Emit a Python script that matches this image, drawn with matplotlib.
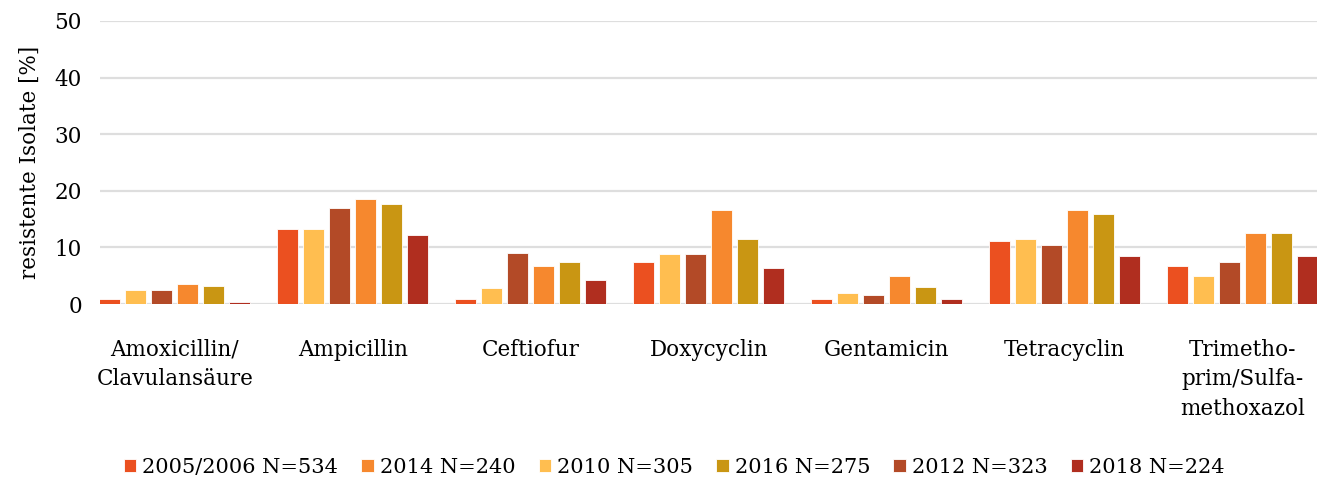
import matplotlib.pyplot as plt
import numpy as np

plt.rcParams["font.family"] = ["DejaVu Serif"]

categories = ["Amoxicillin/\nClavulansäure", "Ampicillin", "Ceftiofur", "Doxycyclin",
              "Gentamicin", "Tetracyclin", "Trimetho-\nprim/Sulfa-\nmethoxazol"]

series = ["2005/2006 N=534", "2010 N=305", "2012 N=323", "2014 N=240", "2016 N=275", "2018 N=224"]
colors = ["#EB5020", "#FFBE50", "#B34A27", "#F6882E", "#C99613", "#B02E1F"]

v2005 = [0.9, 13.2, 0.9, 7.4, 0.9, 11.2, 6.7]
v2010 = [2.5, 13.2, 2.9, 8.8, 1.9, 11.5, 5.0]
v2012 = [2.5, 16.9, 9.1, 8.75, 1.6, 10.5, 7.4]
v2014 = [3.6, 18.6, 6.7, 16.6, 5.0, 16.6, 12.5]
v2016 = [3.2, 17.6, 7.4, 11.5, 3.0, 15.9, 12.5]
v2018 = [0.3, 12.2, 4.3, 6.4, 0.9, 8.4, 8.4]
values = [v2005, v2010, v2012, v2014, v2016, v2018]

# legend order as in the original
legend_order = [0, 3, 1, 4, 2, 5]

fig = plt.figure(figsize=(13.17, 4.79), dpi=100)
ax = fig.add_axes([0.0759, 0.3653, 0.9241, 0.5909])

x = np.arange(len(categories))
pitch = 0.146
width = 0.118
handles = []
for i, (name, vals) in enumerate(zip(series, values)):
    b = ax.bar(x + (i - 2.5) * pitch, vals, width, color=colors[i],
               edgecolor="white", linewidth=0.6, label=name, zorder=3)
    handles.append(b)

ax.set_ylim(0, 50)
ax.set_xlim(-0.42, 6.416)
ax.set_yticks([0, 10, 20, 30, 40, 50])
ax.yaxis.grid(True, color="#dedede", linewidth=1.6, zorder=0)
for s in ["top", "right", "left", "bottom"]:
    ax.spines[s].set_visible(False)
ax.tick_params(axis="both", length=0, labelsize=15.5)
ax.tick_params(axis="y", pad=13)
ax.tick_params(axis="x", pad=25)
ax.set_xticks(x)
ax.set_xticklabels(categories, linespacing=1.45)
ax.set_ylabel("resistente Isolate [%]", fontsize=15.5, labelpad=10)

fig.legend([handles[i] for i in legend_order], [series[i] for i in legend_order],
           loc="lower center", bbox_to_anchor=(0.512, -0.035), ncol=6, frameon=False,
           fontsize=15, handlelength=0.6, handleheight=0.6, handletextpad=0.3,
           columnspacing=1.1)

fig.savefig("out.png", dpi=100)
